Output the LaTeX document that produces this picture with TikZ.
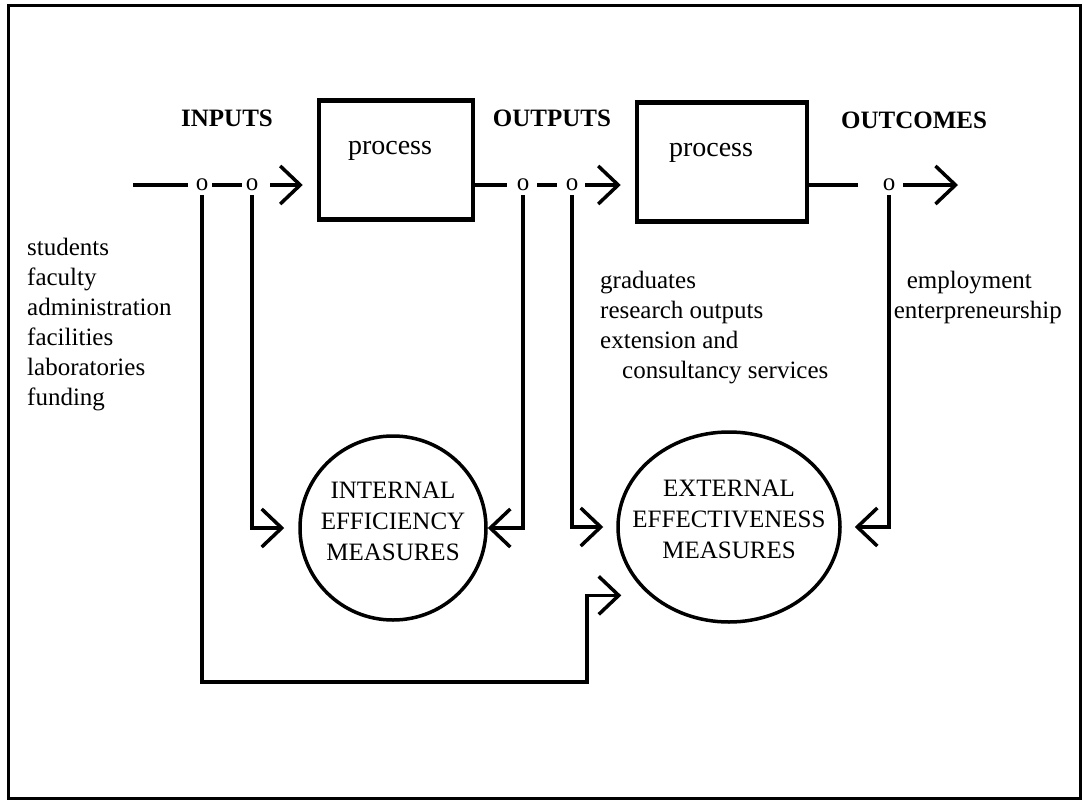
\documentclass[tikz,border=0pt]{standalone}
\usepackage{fontspec}
\setmainfont{Liberation Serif}
\usetikzlibrary{arrows.meta,shapes.geometric}

\newcommand\listfont{\fontsize{25}{30}\selectfont}
\newcommand\procfont{\fontsize{28}{32}\selectfont}
\colorlet{ink}{black}
\tikzset{box/.style={draw=ink, line width=4.5pt, minimum width=154pt, minimum height=119pt},
    measure/.style={draw=ink, line width=3.5pt, ellipse, inner sep=0pt},
    measuretext/.style={align=center, font=\fontsize{25}{31}\selectfont},
    wire/.style={draw=ink, line width=3.5pt},
    feed/.style={wire, -{Straight Barb[length=20pt,width=38pt]}},
    tap/.style={inner sep=4pt, font=\listfont},
    heading/.style={font=\listfont\bfseries},
    proctext/.style={font=\procfont},
    items/.style={align=left, anchor=north west, inner sep=0pt, font=\listfont}}

\begin{document}
\begin{tikzpicture}[x=1pt, y=-1pt]
    \useasboundingbox (0,0) rectangle (1084,803);
    \draw[line width=3pt] (8,5) rectangle (1080,798);

    % headings and the two process boxes
    \node[heading] (inputs) at (227,118) {INPUTS};
    \node[heading] (outputs) at (552,118) {OUTPUTS};
    \node[heading] (outcomes) at (914,120) {OUTCOMES};
    \node[box] (p1) at (396,160) {};
    \node[box, minimum width=170pt] (p2) at (722,162) {};
    \node[proctext] (p1text) at (390,151) {process};
    \node[proctext] (p2text) at (711,153) {process};

    % measures
    \node[measure, minimum width=186pt, minimum height=184pt] (iem) at (393,528) {};
    \node[measure, minimum width=222pt, minimum height=190pt] (eem) at (729,527) {};
    \node[measuretext] (iemtext) at ([yshift=7pt]iem.center) {INTERNAL\\EFFICIENCY\\MEASURES};
    \node[measuretext] (eemtext) at ([yshift=8pt]eem.center) {EXTERNAL\\EFFECTIVENESS\\MEASURES};

    % lists
    \node[items] (inlist) at (27,238) {students\\faculty\\administration\\facilities\\laboratories\\funding};
    \node[items] (outlist) at (600,271) {graduates\\research outputs\\extension and\\\hspace*{22pt}consultancy services};
    \node[items, align=right, anchor=north east] (outclist) at (1062,271) {employment\hspace*{30pt}\\enterpreneurship};

    % taps on the main line
    \node[tap] (i1) at (202,185) {o};
    \node[tap] (i2) at (252,185) {o};
    \node[tap] (o1) at (523,185) {o};
    \node[tap] (o2) at (572,185) {o};
    \node[tap] (c1) at (889,185) {o};
    \coordinate (start) at (133,185);
    \coordinate (end) at (958,185);
    \coordinate (bend) at (587,682);

    \draw[wire, shorten >=4pt] (start) -- (i1);
    \draw[wire] (i1) -- (i2);
    \draw[feed, shorten <=8pt, shorten >=14pt] (i2) -- (i2 -| p1.west);
    \draw[wire, shorten >=6pt] (o1 -| p1.east) -- (o1);
    \draw[wire, shorten <=4pt, shorten >=5pt] (o1) -- (o2);
    \draw[feed, shorten <=3pt, shorten >=14pt] (o2) -- (o2 -| p2.west);
    \draw[wire, shorten >=21pt] (c1 -| p2.east) -- (c1);
    \draw[feed, shorten <=4pt] (c1) -- (end);

    % feedback to the measures
    \draw[feed, shorten >=14pt] (i2) |- (iem.west);
    \draw[feed] (o1) |- (iem.east);
    \draw[feed, shorten >=13pt] (o2) |- (eem.west);
    \draw[feed, shorten >=13pt] (c1) |- (eem.east);
    \draw[feed, shorten >=28pt] (i1) |- (bend) |- (eem.south west);
\end{tikzpicture}
\end{document}
